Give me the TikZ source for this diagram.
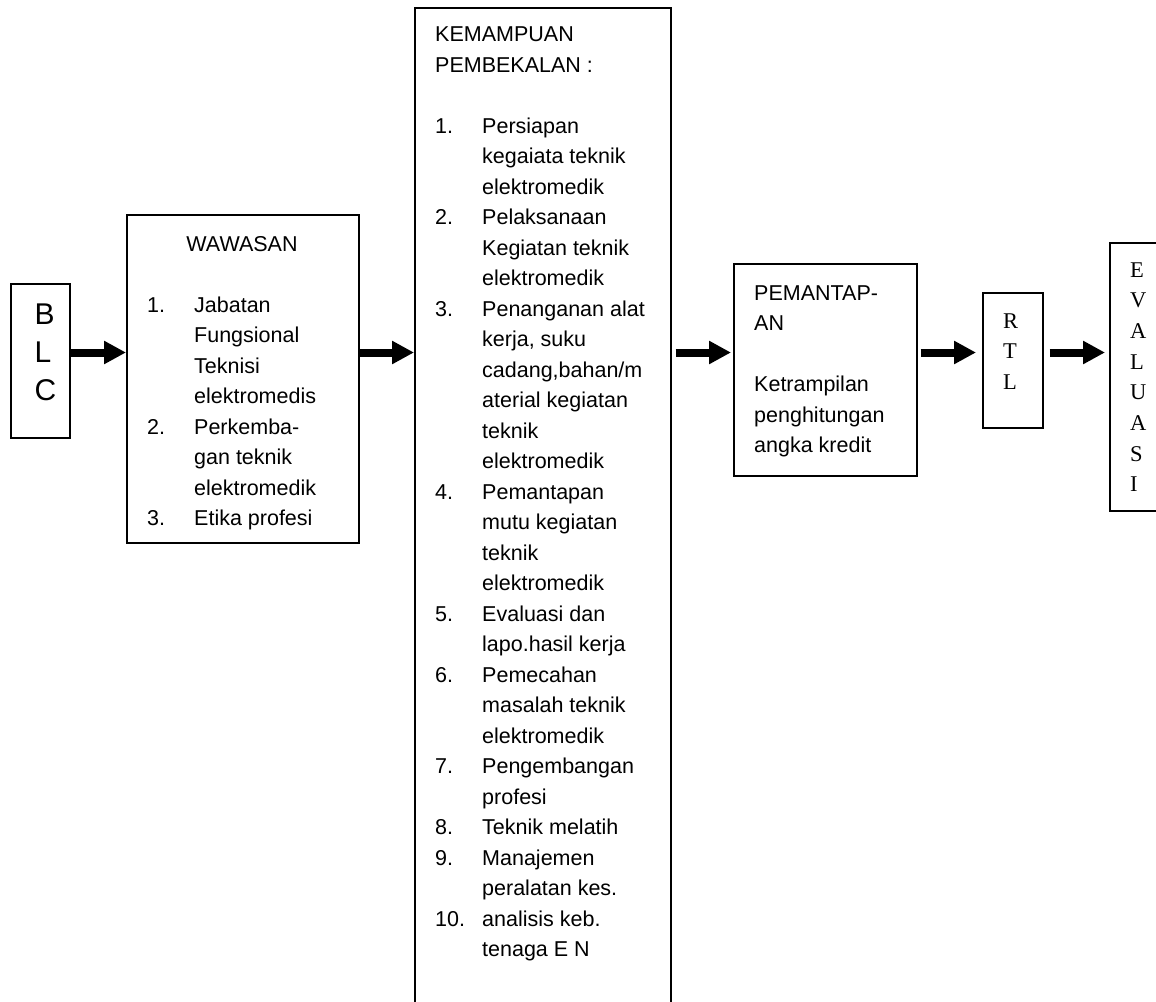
\documentclass[tikz,border=0pt]{standalone}
\usepackage{fontspec}
\setmainfont{Liberation Sans}
\newfontfamily\serifx{Liberation Serif}
\usetikzlibrary{arrows.meta}
\newcommand\lsitem[2]{\makebox[47pt][l]{#1}#2}
\newcommand\lscont[1]{\hspace*{47pt}#1}
\tikzset{
  box/.style={draw, line width=1.6pt, anchor=north west, inner sep=0pt},
  txt/.style={anchor=base west, inner sep=0pt},
  blk/.style={line width=8pt, -{Triangle[length=22pt,width=22pt]}},
}
\begin{document}
\begin{tikzpicture}[x=1pt,y=-1pt]
\useasboundingbox (0,0) rectangle (1156,1001);
\clip (0,0) rectangle (1156,1001);
% boxes
\node[box, minimum width=59pt, minimum height=154pt] (blc) at (10,283) {};
\node[box, minimum width=232pt, minimum height=328pt] (waw) at (126,214) {};
\node[box, minimum width=256pt, minimum height=1010pt] (kem) at (414,7) {};
\node[box, minimum width=183pt, minimum height=212pt] (pem) at (733,263) {};
\node[box, minimum width=60pt, minimum height=135pt] (rtl) at (982,292) {};
\node[box, minimum width=70pt, minimum height=268pt] (eva) at (1109,242) {};
% texts
\node[txt] (blct) at (34.5,324) {\parbox[t]{30pt}{\fontsize{30}{38}\selectfont B\\L\\C}};
\node[anchor=base, inner sep=0pt] (wawt) at (242,251) {\fontsize{21.5}{30.5}\selectfont WAWASAN};
\node[txt] (wawl) at (147,312) {\parbox[t]{205pt}{\fontsize{21.5}{30.5}\selectfont\raggedright
\lsitem{1.}{Jabatan}\\
\lscont{Fungsional}\\
\lscont{Teknisi}\\
\lscont{elektromedis}\\
\lsitem{2.}{Perkemba-}\\
\lscont{gan teknik}\\
\lscont{elektromedik}\\
\lsitem{3.}{Etika profesi}}};
\node[txt] (kemt) at (435,41.7) {\parbox[t]{232pt}{\fontsize{21.5}{30.5}\selectfont\raggedright
KEMAMPUAN\\
PEMBEKALAN :\\
\mbox{}\\
\lsitem{1.}{Persiapan}\\
\lscont{kegaiata teknik}\\
\lscont{elektromedik}\\
\lsitem{2.}{Pelaksanaan}\\
\lscont{Kegiatan teknik}\\
\lscont{elektromedik}\\
\lsitem{3.}{Penanganan alat}\\
\lscont{kerja, suku}\\
\lscont{cadang,bahan/m}\\
\lscont{aterial kegiatan}\\
\lscont{teknik}\\
\lscont{elektromedik}\\
\lsitem{4.}{Pemantapan}\\
\lscont{mutu kegiatan}\\
\lscont{teknik}\\
\lscont{elektromedik}\\
\lsitem{5.}{Evaluasi dan}\\
\lscont{lapo.hasil kerja}\\
\lsitem{6.}{Pemecahan}\\
\lscont{masalah teknik}\\
\lscont{elektromedik}\\
\lsitem{7.}{Pengembangan}\\
\lscont{profesi}\\
\lsitem{8.}{Teknik melatih}\\
\lsitem{9.}{Manajemen}\\
\lscont{peralatan kes.}\\
\lsitem{10.}{analisis keb.}\\
\lscont{tenaga E N}}};
\node[txt] (pemt) at (754,300) {\parbox[t]{160pt}{\fontsize{21.5}{30.5}\selectfont\raggedright
PEMANTAP-\\
AN\\
\mbox{}\\
Ketrampilan\\
penghitungan\\
angka kredit}};
\node[txt] (rtlt) at (1003,328) {\parbox[t]{30pt}{\serifx\fontsize{22.5}{30.5}\selectfont R\\T\\L}};
\node[txt] (evat) at (1130,277) {\parbox[t]{30pt}{\serifx\fontsize{22.5}{30.7}\selectfont E\\V\\A\\L\\U\\A\\S\\I}};
% arrows
\coordinate (ay) at (0,352.5);
\draw[blk] (blc.east |- ay) -- (waw.west |- ay);
\draw[blk] (waw.east |- ay) -- (kem.west |- ay);
\draw[blk, shorten <=4pt, shorten >=2pt] (kem.east |- ay) -- (pem.west |- ay);
\draw[blk, shorten <=3pt, shorten >=6pt] (pem.east |- ay) -- (rtl.west |- ay);
\draw[blk, shorten <=6pt, shorten >=4pt] (rtl.east |- ay) -- (eva.west |- ay);
\end{tikzpicture}
\end{document}
